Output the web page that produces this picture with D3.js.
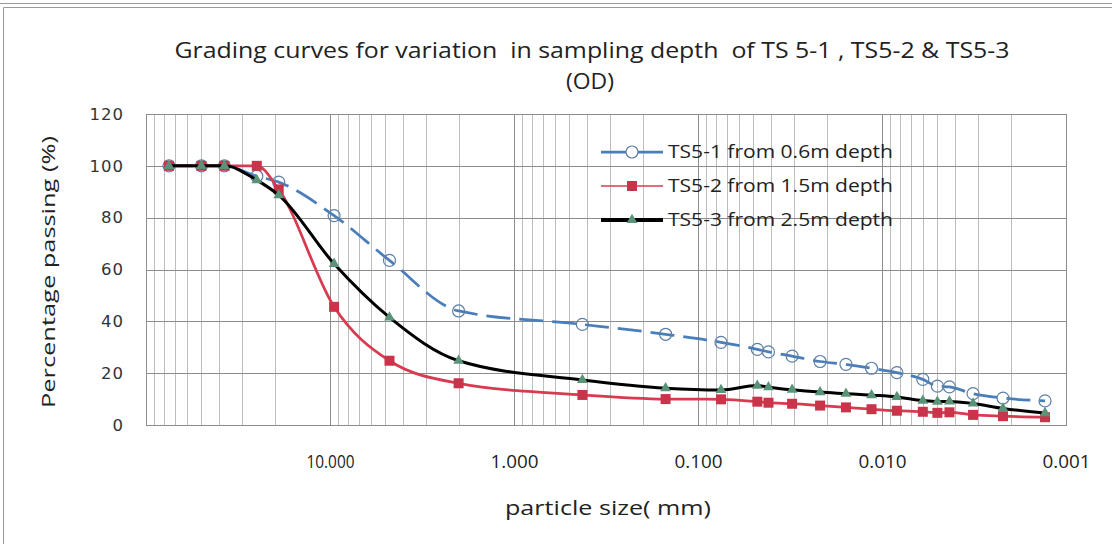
<!DOCTYPE html>
<html>
<head>
<meta charset="utf-8">
<script src="https://cdn.jsdelivr.net/npm/d3@7"></script>
<style>
  html, body { margin: 0; padding: 0; background: #fff; }
  svg { display: block; }
  text { white-space: pre; }
</style>
</head>
<body>
<svg id="chart" width="1112" height="544"></svg>
<script>
// particle size in mm (sieves, then hydrometer readings)
const sizes = [75, 50, 37.5, 25, 19, 9.5, 4.75, 2.0, 0.425, 0.15, 0.075,
  0.0476, 0.0414, 0.0308, 0.0217, 0.0157, 0.0114, 0.0083, 0.0060, 0.0050, 0.0043, 0.0032, 0.0022, 0.0013];

// percentage passing for each sample
const ts51 = [100, 100, 100, 96, 93.7, 80.8, 63.5, 44.0, 38.8, 35.0, 31.9,
  29.2, 28.2, 26.6, 24.5, 23.4, 21.9, 20.2, 17.6, 15.0, 14.7, 12.1, 10.4, 9.3];
const ts52 = [100, 100, 100, 100, 90.9, 45.6, 24.8, 16.1, 11.6, 10.0, 9.9,
  9.0, 8.6, 8.2, 7.5, 6.8, 6.1, 5.5, 5.1, 4.7, 4.9, 3.9, 3.4, 3.0];
const ts53 = [100, 100, 100, 94.5, 88.7, 62.2, 41.5, 24.8, 17.4, 14.2, 13.5,
  15.2, 14.6, 13.6, 12.7, 12.1, 11.5, 10.8, 9.4, 9.0, 9.1, 8.3, 6.4, 4.6];

const seriesNames = ['TS5-1 from 0.6m depth', 'TS5-2 from 1.5m depth', 'TS5-3 from 2.5m depth'];
const yTicks = [0, 20, 40, 60, 80, 100, 120];
const xTicks = [10, 1, 0.1, 0.01, 0.001];

const titleLine1 = 'Grading curves for variation  in sampling depth  of TS 5-1 , TS5-2 & TS5-3';
const titleLine2 = '(OD)';
const xTitle = 'particle size( mm)';
const yTitle = 'Percentage passing (%)';

const width = 1112;
const height = 544;
const margin = { top: 114, right: 46, bottom: 119, left: 146 };
const font = "'Open Sans', sans-serif";

const svg = d3.select('#chart');

// outer frame of the pasted picture
svg.append('line')
  .attr('x1', 0).attr('x2', width).attr('y1', 3.5).attr('y2', 3.5)
  .attr('stroke', '#9a9a9a');
svg.append('path')
  .attr('d', `M3.5,${height} V7.5 H${width}`)
  .attr('fill', 'none')
  .attr('stroke', '#9a9a9a');

const x = d3.scaleLog()
  .domain([100, 0.001])
  .range([margin.left, width - margin.right]);

const y = d3.scaleLinear()
  .domain([0, 120])
  .range([height - margin.bottom, margin.top]);

const isDecade = (v) => Math.abs(Math.log10(v) - Math.round(Math.log10(v))) < 1e-6;

// vertical grid (log minor + decade)
const grid = svg.append('g').attr('class', 'grid');
grid.selectAll('.vgrid')
  .data(x.ticks())
  .join('line')
  .attr('class', 'vgrid')
  .attr('x1', (d) => Math.round(x(d)) + 0.5)
  .attr('x2', (d) => Math.round(x(d)) + 0.5)
  .attr('y1', y(120))
  .attr('y2', y(0))
  .attr('stroke', (d) => (isDecade(d) ? '#8c8c8c' : '#bdbdbd'))
  .attr('stroke-width', 1);

grid.selectAll('.hgrid')
  .data(yTicks)
  .join('line')
  .attr('class', 'hgrid')
  .attr('x1', x(100))
  .attr('x2', x(0.001))
  .attr('y1', (d) => Math.round(y(d)) + 0.5)
  .attr('y2', (d) => Math.round(y(d)) + 0.5)
  .attr('stroke', '#8c8c8c');

svg.append('rect')
  .attr('x', x(100) + 0.5)
  .attr('y', Math.round(y(120)) + 0.5)
  .attr('width', x(0.001) - x(100))
  .attr('height', y(0) - y(120))
  .attr('fill', 'none')
  .attr('stroke', '#8c8c8c');

// axes (labels only, no tick marks)
const yAxis = (g) =>
  g.attr('transform', `translate(${margin.left - 22},0)`)
    .call(d3.axisLeft(y).tickValues(yTicks).tickSize(0).tickPadding(0))
    .call((g) => g.select('.domain').remove())
    .call((g) => g.selectAll('text')
      .attr('font-family', "'DejaVu Sans', sans-serif")
      .attr('font-size', 16.5)
      .attr('letter-spacing', 1)
      .attr('fill', '#333'));

const xAxis = (g) =>
  g.attr('transform', `translate(0,${height - margin.bottom + 30})`)
    .call(d3.axisBottom(x).tickValues(xTicks).tickFormat(d3.format('.3f')).tickSize(0).tickPadding(0))
    .call((g) => g.select('.domain').remove())
    .call((g) => g.selectAll('text')
      .attr('font-family', font)
      .attr('font-size', 18)
      .attr('textLength', 48)
      .attr('lengthAdjust', 'spacingAndGlyphs')
      .attr('fill', '#222'));

svg.append('g').attr('class', 'y-axis').call(yAxis);
svg.append('g').attr('class', 'x-axis').call(xAxis);

// series
const series = [
  { name: seriesNames[0], values: ts51, color: '#4a7ebb', width: 2.75, dash: '24,9', marker: 'circle', markColor: '#5d7fa6' },
  { name: seriesNames[1], values: ts52, color: '#d83a50', width: 2.75, dash: null, marker: 'square', markColor: '#c9344a' },
  { name: seriesNames[2], values: ts53, color: '#000', width: 3, dash: null, marker: 'triangle', markColor: '#5a9478' },
];

const line = d3.line()
  .x((d) => x(d.size))
  .y((d) => y(d.value))
  .curve(d3.curveMonotoneX);

const pointsOf = (s) => sizes.map((size, i) => ({ size, value: s.values[i] }));

const drawMarker = (sel, s, fillCircle) => {
  if (s.marker === 'circle') {
    sel.append('circle')
      .attr('r', 6)
      .attr('fill', fillCircle ? '#fff' : 'none')
      .attr('stroke', s.markColor)
      .attr('stroke-width', 1.2);
  } else if (s.marker === 'square') {
    sel.append('rect')
      .attr('x', -5).attr('y', -5)
      .attr('width', 10).attr('height', 10)
      .attr('fill', s.markColor);
  } else {
    sel.append('path')
      .attr('d', d3.symbol(d3.symbolTriangle, 50)())
      .attr('fill', s.markColor);
  }
};

const plot = svg.append('g').attr('class', 'plot-area');
series.forEach((s) => {
  const g = plot.append('g');
  g.append('path')
    .datum(pointsOf(s))
    .attr('d', line)
    .attr('fill', 'none')
    .attr('stroke', s.color)
    .attr('stroke-width', s.width)
    .attr('stroke-dasharray', s.dash)
    .attr('stroke-linejoin', 'round');
  g.selectAll('.pt')
    .data(pointsOf(s))
    .join('g')
    .attr('class', 'pt')
    .attr('transform', (d) => `translate(${x(d.size)},${y(d.value)})`)
    .each(function () { drawMarker(d3.select(this), s, false); });
});

// legend
const legend = svg.append('g').attr('transform', 'translate(601,152)');
series.forEach((s, i) => {
  const row = legend.append('g').attr('transform', `translate(0,${i * 34})`);
  row.append('line')
    .attr('x1', 0).attr('x2', 62)
    .attr('stroke', s.color)
    .attr('stroke-width', i === 1 ? 1.5 : s.width + (i === 2 ? 1 : 0));
  const m = row.append('g').attr('transform', 'translate(31,0)');
  drawMarker(m, s, true);
  row.append('text')
    .attr('x', 67)
    .attr('y', 6)
    .attr('font-family', font)
    .attr('font-size', 18)
    .attr('fill', '#222')
    .attr('textLength', 225)
    .attr('lengthAdjust', 'spacingAndGlyphs')
    .text(s.name);
});

// titles
svg.append('text')
  .attr('x', 592)
  .attr('y', 58)
  .attr('text-anchor', 'middle')
  .attr('font-family', font)
  .attr('font-size', 21)
  .attr('fill', '#222')
  .attr('textLength', 835)
  .attr('lengthAdjust', 'spacingAndGlyphs')
  .text(titleLine1);

svg.append('text')
  .attr('x', 590)
  .attr('y', 89)
  .attr('text-anchor', 'middle')
  .attr('font-family', font)
  .attr('font-size', 21)
  .attr('fill', '#222')
  .attr('textLength', 48)
  .attr('lengthAdjust', 'spacingAndGlyphs')
  .text(titleLine2);

svg.append('text')
  .attr('x', 608)
  .attr('y', 515)
  .attr('text-anchor', 'middle')
  .attr('font-family', font)
  .attr('font-size', 20)
  .attr('fill', '#222')
  .attr('textLength', 206)
  .attr('lengthAdjust', 'spacingAndGlyphs')
  .text(xTitle);

svg.append('text')
  .attr('transform', 'translate(55,272) rotate(-90)')
  .attr('text-anchor', 'middle')
  .attr('font-family', font)
  .attr('font-size', 18)
  .attr('fill', '#222')
  .attr('textLength', 272)
  .attr('lengthAdjust', 'spacingAndGlyphs')
  .text(yTitle);
</script>
</body>
</html>
